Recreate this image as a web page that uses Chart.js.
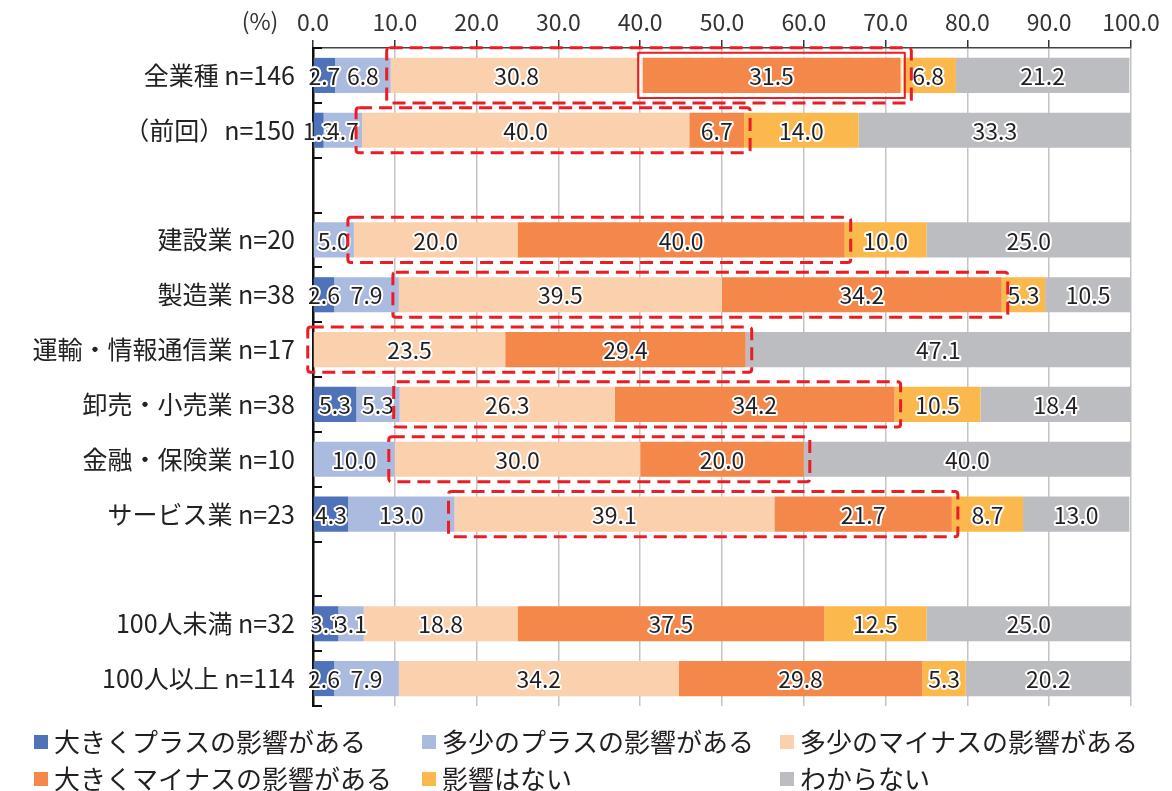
<!DOCTYPE html>
<html lang="ja">
<head>
<meta charset="utf-8">
<script src="https://cdn.jsdelivr.net/npm/chart.js@4.4.1/dist/chart.umd.min.js"></script>
<style>
  html, body { margin: 0; padding: 0; background: #fff; }
  #wrap { width: 1172px; height: 791px; position: relative; }
</style>
</head>
<body>
<div id="wrap"><canvas id="c" width="1172" height="791"></canvas></div>
<script>
// Row labels (empty strings are spacer rows)
const categories = [
  '全業種 n=146', '（前回）n=150', '',
  '建設業 n=20', '製造業 n=38', '運輸・情報通信業 n=17', '卸売・小売業 n=38',
  '金融・保険業 n=10', 'サービス業 n=23', '',
  '100人未満 n=32', '100人以上 n=114'
];

const seriesNames = [
  '大きくプラスの影響がある', '多少のプラスの影響がある', '多少のマイナスの影響がある',
  '大きくマイナスの影響がある', '影響はない', 'わからない'
];

// Shares (%) per row
const bigPlus    = [2.7, 1.3, null, null, 2.6, null, 5.3, null, 4.3, null, 3.1, 2.6];
const smallPlus  = [6.8, 4.7, null, 5.0, 7.9, null, 5.3, 10.0, 13.0, null, 3.1, 7.9];
const smallMinus = [30.8, 40.0, null, 20.0, 39.5, 23.5, 26.3, 30.0, 39.1, null, 18.8, 34.2];
const bigMinus   = [31.5, 6.7, null, 40.0, 34.2, 29.4, 34.2, 20.0, 21.7, null, 37.5, 29.8];
const noEffect   = [6.8, 14.0, null, 10.0, 5.3, null, 10.5, null, 8.7, null, 12.5, 5.3];
const unknown    = [21.2, 33.3, null, 25.0, 10.5, 47.1, 18.4, 40.0, 13.0, null, 25.0, 20.2];

const tickLabels = ['0.0', '10.0', '20.0', '30.0', '40.0', '50.0', '60.0', '70.0', '80.0', '90.0', '100.0'];

// Rows whose "minus" segments are outlined, and the row with the emphasised segment
const outlinedRows = [0, 1, 3, 4, 5, 6, 7, 8];
const emphasisRow = 0;

const seriesValues = [bigPlus, smallPlus, smallMinus, bigMinus, noEffect, unknown];
const seriesColors = ['#4f72b8', '#abbbe0', '#fbd0ad', '#f4874a', '#fbb84d', '#bcbdc0'];

const FONT = "'Noto Sans CJK JP', 'Noto Sans', sans-serif";
const RED = '#ec1c24';

function roundRectPath(ctx, x, y, w, h, r) {
  ctx.beginPath();
  ctx.moveTo(x + r, y);
  ctx.lineTo(x + w - r, y);
  ctx.quadraticCurveTo(x + w, y, x + w, y + r);
  ctx.lineTo(x + w, y + h - r);
  ctx.quadraticCurveTo(x + w, y + h, x + w - r, y + h);
  ctx.lineTo(x + r, y + h);
  ctx.quadraticCurveTo(x, y + h, x, y + h - r);
  ctx.lineTo(x, y + r);
  ctx.quadraticCurveTo(x, y, x + r, y);
  ctx.closePath();
}

const overlay = {
  id: 'overlay',
  afterDatasetsDraw(chart) {
    const ctx = chart.ctx;
    const area = chart.chartArea;
    ctx.save();

    // inward category ticks on the left axis
    const n = categories.length;
    const step = (area.bottom - area.top) / n;
    ctx.strokeStyle = '#111';
    ctx.lineWidth = 2;
    for (let k = 0; k <= n; k++) {
      const y = Math.round(area.top + k * step);
      ctx.beginPath();
      ctx.moveTo(area.left, y);
      ctx.lineTo(area.left + 9, y);
      ctx.stroke();
    }

    // value labels centred in each segment
    ctx.font = '23px ' + FONT;
    ctx.textAlign = 'center';
    ctx.textBaseline = 'middle';
    ctx.lineJoin = 'round';
    chart.data.datasets.forEach((ds, i) => {
      const meta = chart.getDatasetMeta(i);
      meta.data.forEach((el, j) => {
        const v = ds.data[j];
        if (v === null || v === undefined || v <= 0) return;
        const cx = (el.x + el.base) / 2;
        const txt = v.toFixed(1);
        ctx.strokeStyle = '#ffffff';
        ctx.lineWidth = 4;
        ctx.strokeText(txt, cx, el.y + 1);
        ctx.fillStyle = '#231f20';
        ctx.fillText(txt, cx, el.y + 1);
      });
    });

    // outlines around the minus segments
    const m2 = chart.getDatasetMeta(2);
    const m3 = chart.getDatasetMeta(3);
    outlinedRows.forEach(row => {
      const a = m2.data[row], b = m3.data[row];
      const left = Math.min(a.base, a.x);
      const right = Math.max(b.x, b.base);
      const half = a.height / 2;
      let padL = 6, padR = 6, padY = 5;
      if (row === emphasisRow) { padL = 4; padR = 11; padY = 10; }
      ctx.setLineDash([13, 7]);
      ctx.strokeStyle = RED;
      ctx.lineWidth = 3;
      roundRectPath(ctx, left - padL, a.y - half - padY, right - left + padL + padR, 2 * half + 2 * padY, 3);
      ctx.stroke();
    });

    // solid frame around the emphasised segment
    {
      const b = m3.data[emphasisRow];
      const half = b.height / 2;
      ctx.setLineDash([]);
      ctx.strokeStyle = '#ffffff';
      ctx.lineWidth = 2;
      ctx.strokeRect(b.base - 2, b.y - half - 2, b.x - b.base + 4, 2 * half + 4);
      ctx.strokeStyle = RED;
      ctx.lineWidth = 2;
      ctx.strokeRect(b.base - 4.5, b.y - half - 5, b.x - b.base + 9, 2 * half + 10);
    }

    // unit label left of the scale
    ctx.setLineDash([]);
    ctx.font = '23px ' + FONT;
    ctx.fillStyle = '#333';
    ctx.textAlign = 'center';
    ctx.textBaseline = 'middle';
    ctx.fillText('(%)', 260, 21);

    // legend: 3 columns x 2 rows
    const colX = [34, 422, 780];
    const rowY = [742, 779];
    ctx.font = '26px ' + FONT;
    ctx.textAlign = 'left';
    chart.data.datasets.forEach((ds, i) => {
      const cx = colX[i % 3];
      const cy = rowY[Math.floor(i / 3)];
      ctx.fillStyle = ds.backgroundColor;
      ctx.fillRect(cx, cy - 7, 14, 14);
      ctx.fillStyle = '#231f20';
      ctx.fillText(ds.label, cx + 20, cy);
    });

    ctx.restore();
  }
};

new Chart(document.getElementById('c'), {
  type: 'bar',
  data: {
    labels: categories,
    datasets: seriesNames.map((name, i) => ({
      label: name,
      data: seriesValues[i],
      backgroundColor: seriesColors[i],
      borderWidth: 0,
      barPercentage: 0.64,
      categoryPercentage: 1.0
    }))
  },
  options: {
    indexAxis: 'y',
    responsive: false,
    animation: false,
    devicePixelRatio: 1,
    layout: { padding: { left: 0, right: 41, top: 0, bottom: 85 } },
    plugins: {
      legend: { display: false },
      tooltip: { enabled: false }
    },
    scales: {
      x: {
        type: 'linear',
        position: 'top',
        stacked: true,
        min: 0,
        max: 100,
        afterFit(scale) { scale.height = 48; },
        ticks: {
          stepSize: 10,
          padding: 4,
          color: '#333',
          font: { family: FONT, size: 23 },
          callback: (v, i) => tickLabels[i]
        },
        grid: {
          color: '#c4c4c4',
          lineWidth: 1.5,
          drawTicks: true,
          tickLength: 8,
          tickColor: '#333'
        },
        border: { display: true, color: '#444', width: 1.5 }
      },
      y: {
        type: 'category',
        stacked: true,
        afterFit(scale) { scale.width = 313; },
        ticks: {
          padding: 18,
          color: '#222',
          font: { family: FONT, size: 25 },
          autoSkip: false
        },
        grid: { display: false, drawTicks: false },
        border: { display: true, color: '#111', width: 2.5 }
      }
    }
  },
  plugins: [overlay]
});
</script>
</body>
</html>
